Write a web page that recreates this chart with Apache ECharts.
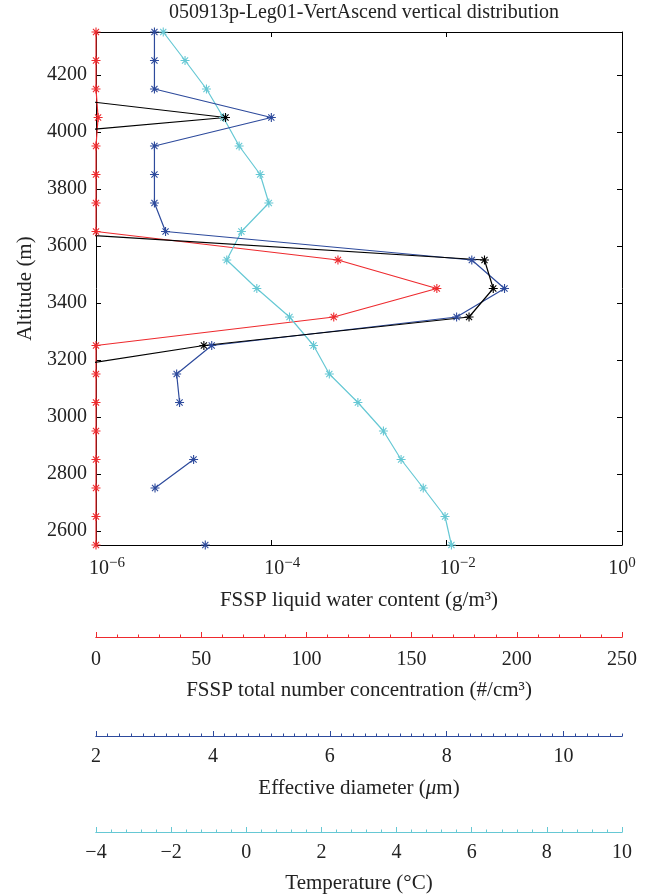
<!DOCTYPE html>
<html><head><meta charset="utf-8">
<script src="https://cdn.jsdelivr.net/npm/echarts@6/dist/echarts.min.js"></script>
<style>html,body{margin:0;padding:0;background:#fff}#c{width:661px;height:896px}</style>
</head><body><div id="c"></div>
<script>
// ---- data ----
const altitudes = [4350,4250,4150,4050,3950,3850,3750,3650,3550,3450,3350,3250,3150,3050,2950,2850,2750,2650,2550];
const numberConc = [0,0,0,1,0,0,0,0,115,162,113,0,0,0,0,0,0,0,0];            // #/cm3
const lwc = [null,null,5e-8,3.0e-5,7e-9,null,null,1.7e-7,0.027,0.034,0.018,1.7e-5,1.4e-7,null,null,null,null,null,null]; // g/m3
const effDiam = [3.0,3.0,3.0,5.0,3.0,3.0,3.0,3.19,8.43,8.99,8.17,3.98,3.38,3.43,null,3.67,3.01,null,3.87]; // um
const temperature = [-2.21,-1.63,-1.06,-0.61,-0.19,0.37,0.60,-0.13,-0.52,0.28,1.15,1.79,2.21,2.97,3.65,4.12,4.71,5.29,5.46]; // C
const altTicks = [2600,2800,3000,3200,3400,3600,3800,4000,4200];
const lwcTicks = [1e-6,1e-4,1e-2,1];
const ncTicks = [0,50,100,150,200,250];
const dTicks = [2,4,6,8,10];
const tTicks = [-4,-2,0,2,4,6,8,10];

const FONT = 'Liberation Serif';
const TICKFS = 20, NAMEFS = 21;
const RED = '#ee2a2e', BLUE = '#2d4a9c', CYAN = '#66c8d4', TXT = '#222';
const STAR = 'path://M5,0L5,10M0,5L10,5M1.6,1.6L8.4,8.4M1.6,8.4L8.4,1.6';

function pairs(vals){ return altitudes.map((a,i)=> vals[i]==null ? ['-', a] : [vals[i], a]); }

function colorAxes(color, min, max, minorStep, majors, offset, name, labelMargin, nameGap, rich){
  const minor = {
    type:'value', gridIndex:0, position:'bottom', offset:offset, min:min, max:max, interval:minorStep,
    axisLine:{show:true, onZero:false, lineStyle:{color:color, width:1}},
    axisTick:{show:true, inside:true, length:2.5, lineStyle:{color:color, width:1}},
    axisLabel:{show:false}, splitLine:{show:false}
  };
  const major = {
    type:'value', gridIndex:0, position:'bottom', offset:offset, min:min, max:max,
    axisLine:{show:true, onZero:false, lineStyle:{color:color, width:1}},
    axisTick:{show:true, inside:true, length:5, customValues:majors, lineStyle:{color:color, width:1}},
    axisLabel:{show:true, customValues:majors, margin:labelMargin, fontFamily:FONT, fontSize:TICKFS, color:TXT,
      formatter:v=> (v<0? '\u2212'+(-v) : ''+v)},
    splitLine:{show:false},
    name:name, nameLocation:'middle', nameGap:nameGap,
    nameTextStyle:{fontFamily:FONT, fontSize:NAMEFS, color:TXT, rich:rich||{}}
  };
  return [minor, major];
}

const supRich = {
  pn:{fontFamily:FONT, fontSize:15, lineHeight:26, width:22},
  b:{fontFamily:FONT, fontSize:TICKFS, color:TXT, lineHeight:26},
  s:{fontFamily:FONT, fontSize:15, color:TXT, lineHeight:15, verticalAlign:'top'}
};

const xAxes = [
  { type:'log', logBase:10, gridIndex:0, position:'bottom', min:1e-6, max:1,
    axisLine:{show:true, onZero:false, lineStyle:{color:'#000'}},
    axisTick:{show:true, inside:true, length:5, customValues:lwcTicks, lineStyle:{color:'#000'}},
    axisLabel:{show:true, customValues:lwcTicks, margin:11,
      formatter:v=>{ const e=Math.round(Math.log10(v)); const s=(e<0?'\u2212'+(-e):''+e);
        return (e<0?'{pn| }':'')+'{b|10}{s|'+s+'}'; },
      rich:supRich},
    splitLine:{show:false}, minorTick:{show:false},
    name:'FSSP liquid water content (g/m\u00b3)', nameLocation:'middle', nameGap:45,
    nameTextStyle:{fontFamily:FONT, fontSize:NAMEFS, color:TXT}
  },
  { type:'log', logBase:10, gridIndex:0, position:'top', min:1e-6, max:1,
    axisLine:{show:true, onZero:false, lineStyle:{color:'#000'}},
    axisTick:{show:true, inside:true, length:5, customValues:lwcTicks, lineStyle:{color:'#000'}},
    axisLabel:{show:false}, splitLine:{show:false}
  },
  ...colorAxes(RED, 0, 250, 10, ncTicks, 92, 'FSSP total number concentration (#/cm\u00b3)', 13, 43),
  ...colorAxes(BLUE, 2, 11, 0.2, dTicks, 191, 'Effective diameter ({i|\u03bc}m)', 11, 42,
      {i:{fontFamily:FONT, fontSize:NAMEFS, fontStyle:'italic', color:TXT}}),
  ...colorAxes(CYAN, -4, 10, 0.4, tTicks, 287, 'Temperature (\u00b0C)', 11, 41)
];

const yAxes = [
  { type:'value', gridIndex:0, position:'left', min:2550, max:4350,
    axisLine:{show:true, onZero:false, lineStyle:{color:'#000'}},
    axisTick:{show:true, inside:true, length:5, customValues:altTicks, lineStyle:{color:'#000'}},
    axisLabel:{show:true, customValues:altTicks, margin:9, fontFamily:FONT, fontSize:TICKFS, color:TXT,
      formatter:v=>''+v},
    splitLine:{show:false},
    name:'Altitude (m)', nameLocation:'middle', nameGap:60,
    nameTextStyle:{fontFamily:FONT, fontSize:NAMEFS, color:TXT}
  },
  { type:'value', gridIndex:0, position:'right', min:2550, max:4350,
    axisLine:{show:true, onZero:false, lineStyle:{color:'#000'}},
    axisTick:{show:true, inside:true, length:5, customValues:altTicks, lineStyle:{color:'#000'}},
    axisLabel:{show:false}, splitLine:{show:false}
  }
];

function lineSeries(name, vals, xi, color, lw){
  return {
    name:name, type:'line', xAxisIndex:xi, yAxisIndex:0, data:pairs(vals),
    symbol:STAR, symbolSize:9, showSymbol:true, connectNulls:false, clip:true,
    lineStyle:{color:color, width:lw},
    itemStyle:{color:color, borderColor:color, borderWidth:1.1},
    emphasis:{disabled:true}, silent:true
  };
}

const chart = echarts.init(document.getElementById('c'), null, {renderer:'canvas'});
chart.setOption({
  animation:false,
  backgroundColor:'#fff',
  title:{text:'050913p-Leg01-VertAscend vertical distribution', left:359, top:-2, textAlign:'center',
    textStyle:{fontFamily:FONT, fontSize:20, fontWeight:'normal', color:TXT}},
  grid:{left:96, right:39, top:32, bottom:351, containLabel:false, outerBoundsMode:'none'},
  xAxis:xAxes,
  yAxis:yAxes,
  series:[
    lineSeries('Number concentration', numberConc, 3, RED, 1.2),
    lineSeries('Temperature', temperature, 7, CYAN, 1.2),
    lineSeries('Effective diameter', effDiam, 5, BLUE, 1.2),
    lineSeries('LWC', lwc, 0, '#000', 1.2)
  ]
});
</script>
</body></html>
